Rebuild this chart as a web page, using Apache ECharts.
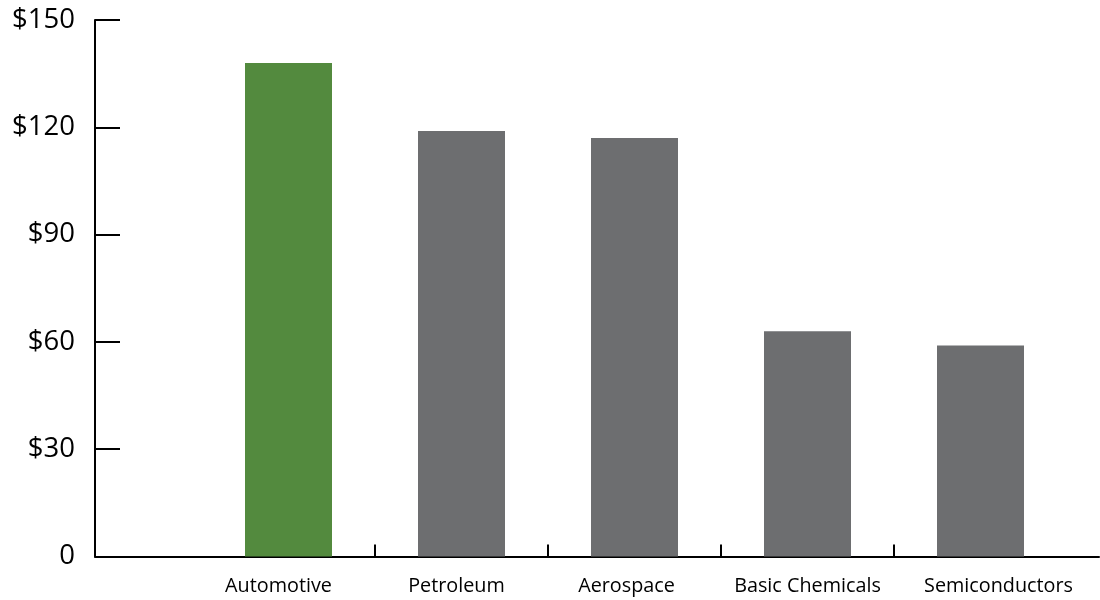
<!DOCTYPE html>
<html><head><meta charset="utf-8">
<script src="https://cdn.jsdelivr.net/npm/echarts@6/dist/echarts.min.js"></script>
<style>html,body{margin:0;padding:0;background:#fff}#c{width:1100px;height:600px}</style>
</head><body><div id="c"></div>
<script>
const categories = ['Automotive', 'Petroleum', 'Aerospace', 'Basic Chemicals', 'Semiconductors'];
const values = [138, 119, 117, 63, 59];
const highlightCategory = 'Automotive';
const yTickValues = [0, 30, 60, 90, 120, 150];
const boundaryTicks = [1, 2, 3, 4];

// layout / style (not data)
const labelShift = [-10, -5, -8, 0, 18];
const W = 1100;
const outerLeft = 95, outerRight = 1;
const innerLeft = 202, innerRight = 33;
const gridTop = 20, gridBottom = 43.5;
const band = (W - innerLeft - innerRight) / categories.length;
const xMin = -(innerLeft - outerLeft) / band;
const xMax = (W - outerRight - innerLeft) / band;

const GREEN = '#538a3e', GRAY = '#6d6e70';
const FONT = 'Open Sans';

const chart = echarts.init(document.getElementById('c'), null, {renderer: 'canvas'});
chart.setOption({
  animation: false,
  backgroundColor: '#fff',
  grid: [
    {left: outerLeft, right: outerRight, top: gridTop, bottom: gridBottom},
    {left: innerLeft, right: innerRight, top: gridTop, bottom: gridBottom}
  ],
  xAxis: [
    {
      gridIndex: 0, type: 'value', min: xMin, max: xMax,
      axisLine: {show: true, onZero: false, lineStyle: {color: '#000', width: 2}},
      axisTick: {show: true, inside: true, length: 12, customValues: boundaryTicks, lineStyle: {color: '#000', width: 2}},
      axisLabel: {show: false},
      splitLine: {show: false}
    },
    {
      gridIndex: 1, type: 'category',
      data: categories.map((c, i) => ({
        value: c,
        textStyle: {padding: labelShift[i] >= 0 ? [0, 0, 0, 2 * labelShift[i]] : [0, -2 * labelShift[i], 0, 0]}
      })),
      axisLine: {show: false},
      axisTick: {show: false},
      axisLabel: {interval: 0, margin: 20, color: '#000', fontSize: 19.8, fontFamily: FONT},
      splitLine: {show: false}
    }
  ],
  yAxis: [
    {
      gridIndex: 0, type: 'value', min: yTickValues[0], max: yTickValues[yTickValues.length - 1],
      interval: yTickValues[1] - yTickValues[0],
      axisLine: {show: true, onZero: false, lineStyle: {color: '#000', width: 2}},
      axisTick: {show: true, inside: true, length: 25, lineStyle: {color: '#000', width: 2}},
      axisLabel: {margin: 20, color: '#000', fontSize: 27.5, fontFamily: FONT,
        formatter: v => v === 0 ? '0' : '$' + v},
      splitLine: {show: false}
    },
    {
      gridIndex: 1, type: 'value', min: yTickValues[0], max: yTickValues[yTickValues.length - 1],
      show: false
    }
  ],
  series: [{
    type: 'bar', xAxisIndex: 1, yAxisIndex: 1,
    barWidth: 87,
    data: values.map((v, i) => ({
      value: v,
      itemStyle: {color: categories[i] === highlightCategory ? GREEN : GRAY}
    }))
  }]
});
</script>
</body></html>
